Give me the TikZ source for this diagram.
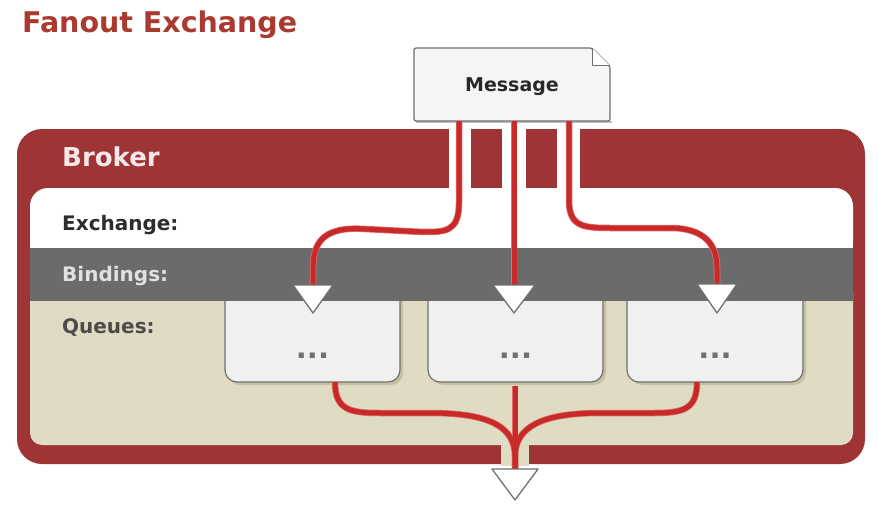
\documentclass[tikz,border=0pt]{standalone}
\usepackage{fontspec}
\setmainfont{DejaVu Sans}
\definecolor{brokerred}{RGB}{158,52,54}
\definecolor{titlered}{RGB}{170,58,48}
\definecolor{linered}{RGB}{200,42,42}
\definecolor{linerim}{RGB}{222,110,105}
\definecolor{bargray}{RGB}{107,107,107}
\definecolor{beige}{RGB}{224,220,196}
\definecolor{beigedark}{RGB}{198,192,163}
\definecolor{boxfill}{RGB}{240,240,240}
\definecolor{msgfill}{RGB}{244,246,246}
\definecolor{edgegray}{RGB}{112,112,112}
\tikzset{
  flow/.style={line width=5pt, color=linered, line cap=butt},
  flowrim/.style={line width=6.5pt, color=linerim, line cap=butt},
  tri/.style={fill=white, draw=edgegray, line width=1.3pt, line join=round},
  lab/.style={anchor=base west, inner sep=0pt, font=\fontsize{20}{22}\selectfont\bfseries},
  dots/.style={inner sep=0pt, text=edgegray, font=\fontsize{29}{30}\selectfont\bfseries}
}
\begin{document}
\begin{tikzpicture}[x=1pt,y=-1pt]
\useasboundingbox (0,0) rectangle (879,511);
\fill[white] (0,0) rectangle (879,511);
% title
\node[anchor=base west, inner sep=0pt, text=titlered, font=\fontsize{28.5}{30}\selectfont\bfseries] (title) at (22,33) {Fanout Exchange};
% broker frame
\fill[brokerred, rounded corners=25pt] (17,129) rectangle (865,464);
\fill[white, rounded corners=18pt] (30,188) -- (30,260) -- (853,260) -- (853,188) -- cycle;
\fill[white] (30,230) rectangle (853,249);
\fill[beige, rounded corners=12pt] (30,280) -- (30,445) -- (853,445) -- (853,280) -- cycle;
% queues (tops hidden under the bindings bar)
\foreach \n/\l/\r in {q1/225/400, q2/428/603, q3/627/803}{
  \fill[beigedark, rounded corners=12pt] (\l+3,280) -- (\l+3,385) -- (\r+3,385) -- (\r+3,280) -- cycle;
  \draw[fill=boxfill, draw=edgegray, line width=1.2pt, rounded corners=12pt] (\l,275) -- (\l,382) -- (\r,382) -- (\r,275) -- cycle;
  \node[dots] (\n) at ({(\l+\r)/2},356) {...};
}
\fill[bargray] (30,248) rectangle (853,301);
% gaps in the frame
\fill[white] (449,127) rectangle (471,189);
\fill[white] (502,127) rectangle (526,189);
\fill[white] (557,127) rectangle (580,189);
\fill[beige] (501,444) rectangle (529,466);
% message
\fill[black!25] (416,121) rectangle (612,123);
\draw[fill=msgfill, draw=edgegray, line width=1.2pt, rounded corners=2pt] (414,121) -- (414,48) -- (592,48) -- (610,66) -- (610,121) -- cycle;
\draw[draw=edgegray, line width=1pt, fill=white] (592,48) -- (592,66) -- (610,66);
\node[minimum width=196pt, minimum height=73pt, inner sep=0pt, font=\fontsize{19}{21}\selectfont\bfseries, text={rgb,255:red,40;green,40;blue,40}] (msg) at (512,87) {Message};
% connector ends
\coordinate (m1) at (459,121);
\coordinate (m2) at (514,121);
\coordinate (m3) at (569,121);
\coordinate (t1) at (313,285);
\coordinate (t2) at (514,285);
\coordinate (t3) at (717,284);
\coordinate (b1) at (335,382);
\coordinate (b2) at (515,386);
\coordinate (b3) at (697,382);
\coordinate (tb) at (515,469);
% flows
\foreach \s in {flowrim, flow}{
  \draw[\s] (m1) -- (459,203) .. controls (459,232) and (445,232) .. (423,232) -- (365,229) .. controls (320,226) and (313,245) .. (313,270) -- (t1);
  \draw[\s] (m2) -- (t2);
  \draw[\s] (m3) -- (569,200) .. controls (569,226) and (582,228) .. (610,228) -- (670,228) .. controls (705,228) and (717,245) .. (717,268) -- (t3);
  \draw[\s] (b1) .. controls (335,410) and (350,413) .. (380,413) -- (430,413) .. controls (492,413) and (514,428) .. (515,455) -- (tb);
  \draw[\s] (b2) -- (tb);
  \draw[\s] (b3) .. controls (697,408) and (685,413) .. (655,413) -- (600,413) .. controls (540,413) and (516,428) .. (515,455) -- (tb);
}
% arrowheads
\draw[tri] (t1) ++(-20,0) -- ++(40,0) -- (313,313) -- cycle;
\draw[tri] (t2) ++(-21,0) -- ++(42,0) -- (514,313) -- cycle;
\draw[tri] (t3) ++(-20,0) -- ++(40,0) -- (717,313) -- cycle;
\draw[tri] (tb) ++(-23,0) -- ++(46,0) -- (515,500) -- cycle;
% labels
\node[anchor=base west, inner sep=0pt, text={rgb,255:red,246;green,232;blue,232}, font=\fontsize{26}{28}\selectfont\bfseries] (broker) at (62,166) {Broker};
\node[lab, text={rgb,255:red,45;green,45;blue,45}] (exl) at (62,230) {Exchange:};
\node[lab, text={rgb,255:red,225;green,225;blue,225}] (bil) at (62,281) {Bindings:};
\node[lab, text={rgb,255:red,75;green,75;blue,75}] (qul) at (62,333) {Queues:};
\end{tikzpicture}
\end{document}
